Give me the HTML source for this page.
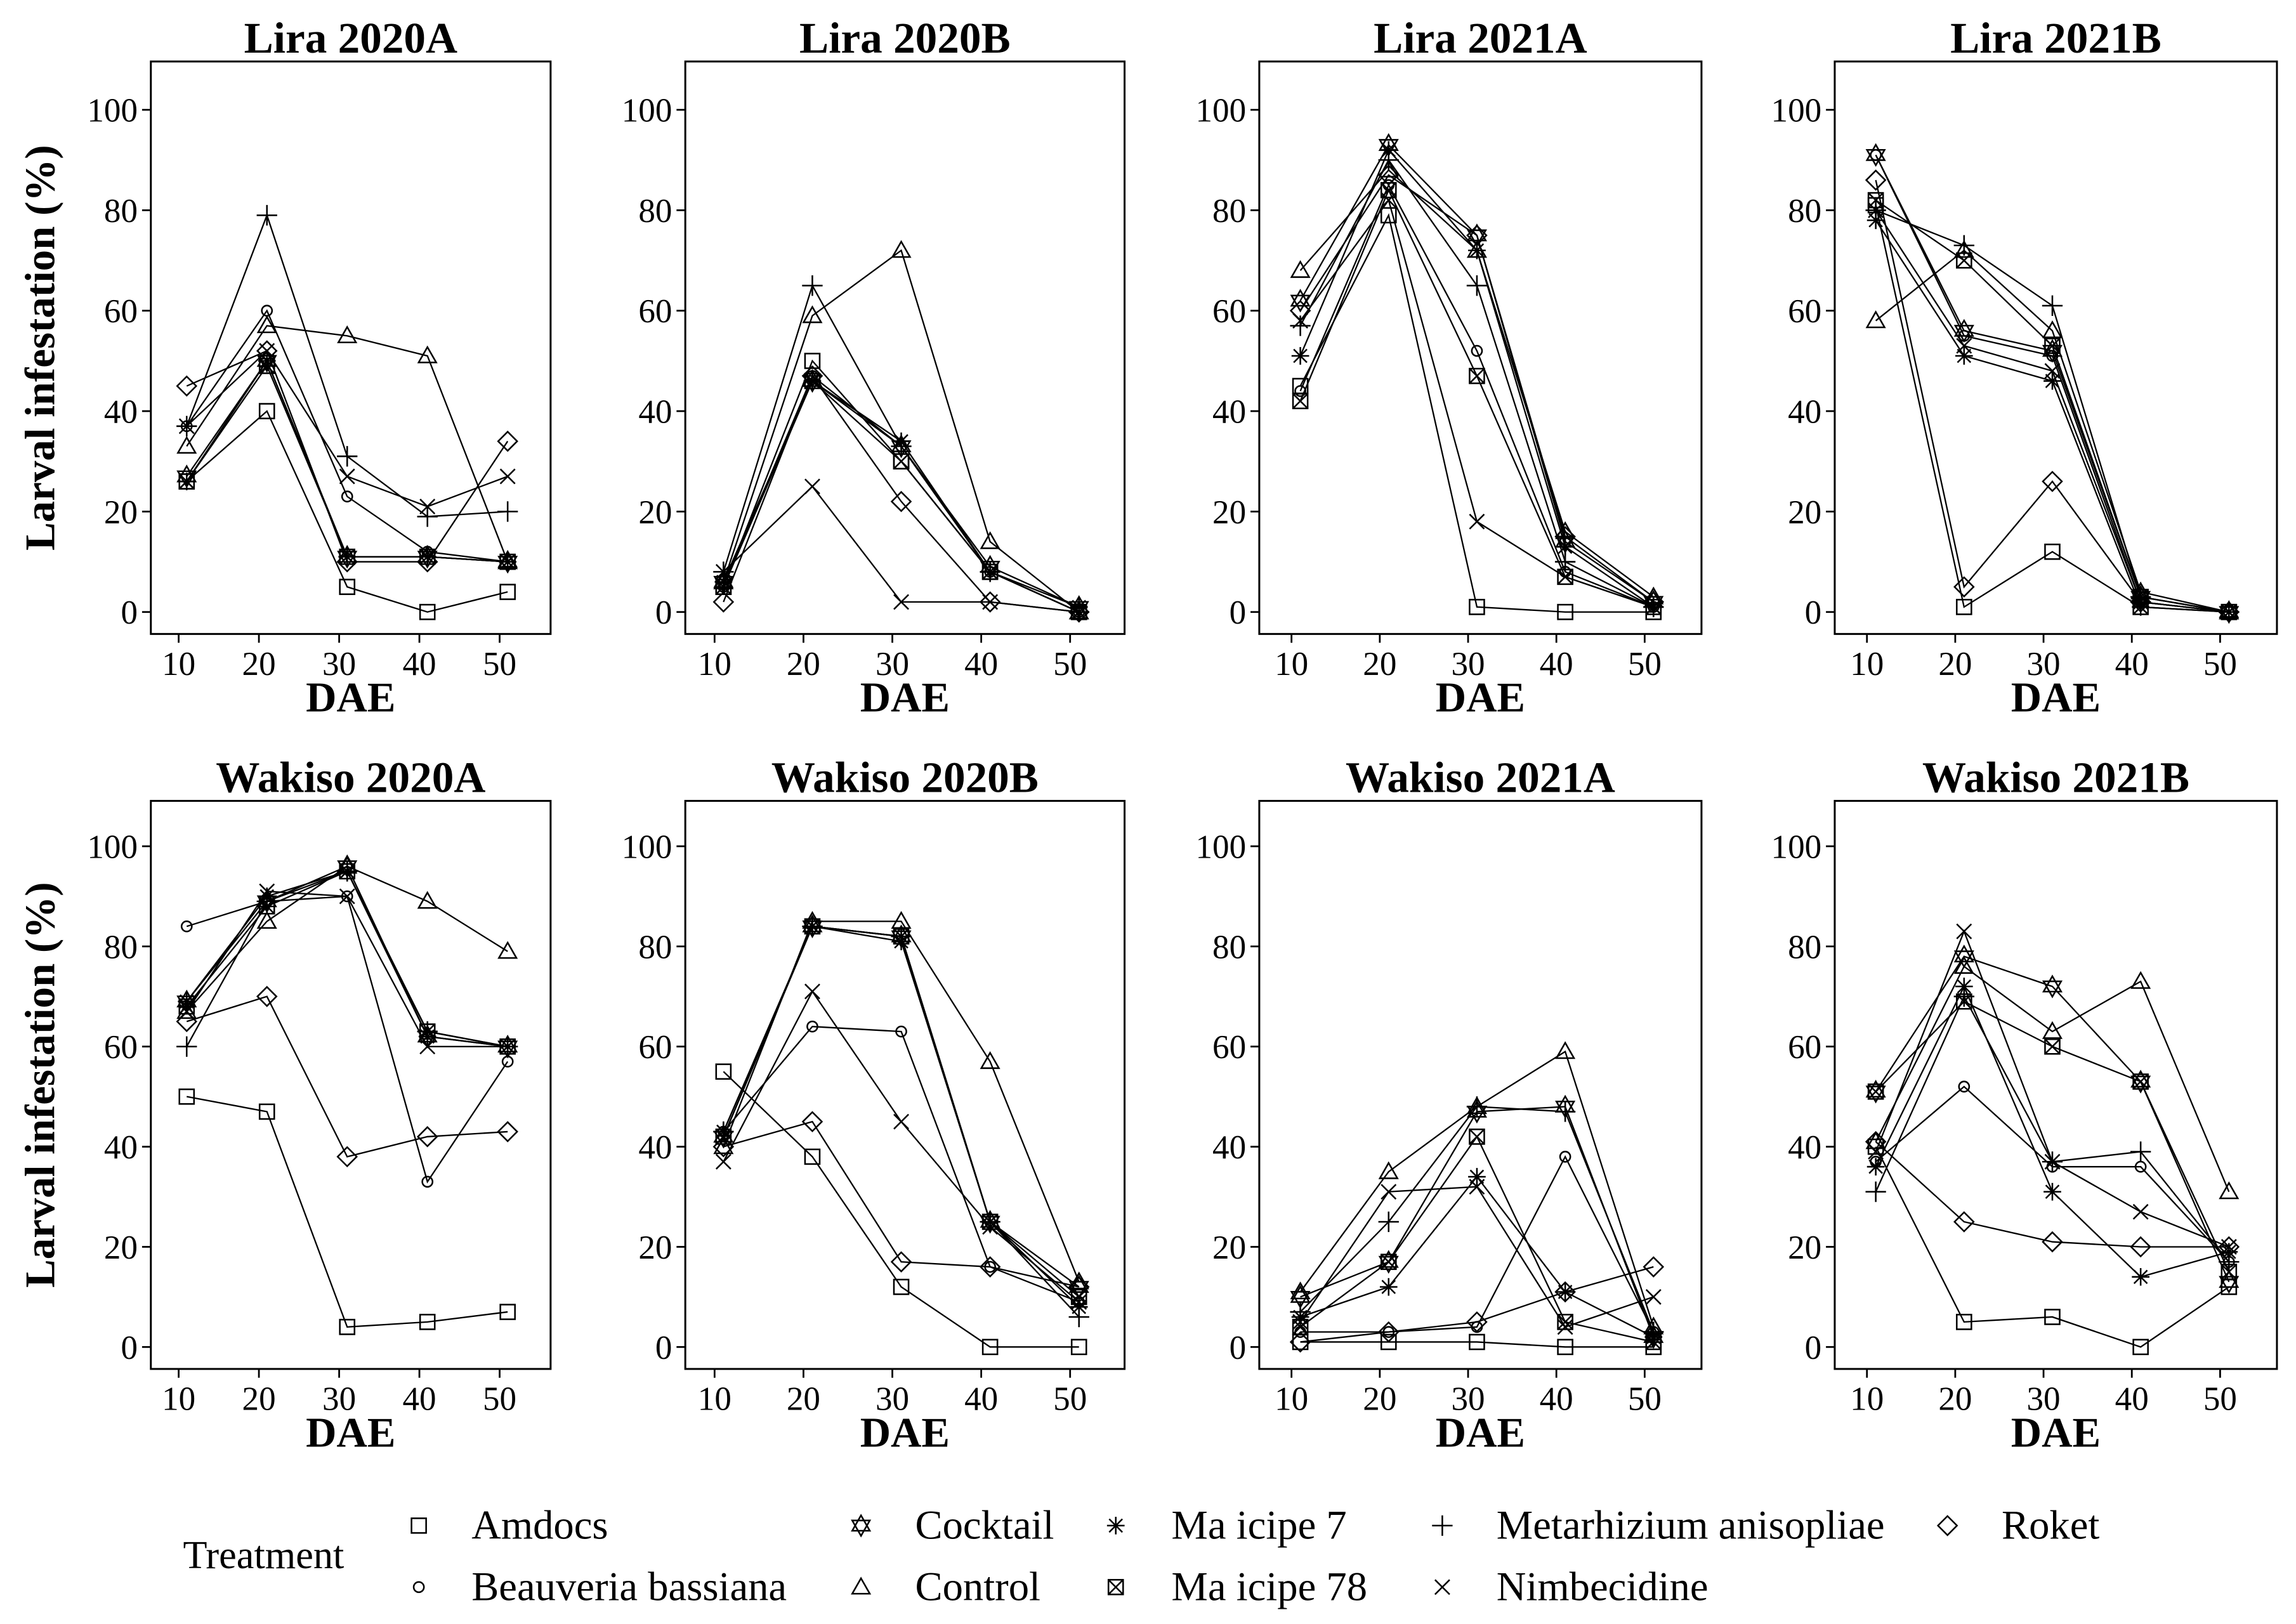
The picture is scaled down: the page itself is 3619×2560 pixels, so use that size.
<!DOCTYPE html>
<html><head><meta charset="utf-8"><style>html,body{margin:0;padding:0;background:#fff}svg{display:block}</style></head>
<body>
<svg id="chart" xmlns="http://www.w3.org/2000/svg" width="3619" height="2560" viewBox="0 0 1568 1109.2" font-family="'Liberation Serif', serif">
<rect width="1568" height="1109.2" fill="#fff"/>
</svg>
<script>
const panelTitles = ["Lira 2020A","Lira 2020B","Lira 2021A","Lira 2021B","Wakiso 2020A","Wakiso 2020B","Wakiso 2021A","Wakiso 2021B"];
const dae = [11,21,31,41,51];
const xTicks = [10,20,30,40,50];
const yTicks = [0,20,40,60,80,100];
const treatments = ["Amdocs","Beauveria bassiana","Cocktail","Control","Ma icipe 7","Ma icipe 78","Metarhizium anisopliae","Nimbecidine","Roket"];
const amdocs = [[26,40,5,0,4],[5,50,30,8,0],[45,79,1,0,0],[81,1,12,1,0],[50,47,4,5,7],[55,38,12,0,0],[1,1,1,0,0],[40,5,6,0,12]];
const beauveria = [[37,60,23,12,10],[5,47,33,8,0],[44,85,52,8,1],[91,55,51,2,0],[84,89,90,33,57],[43,64,63,16,9],[3,3,4,38,3],[37,52,36,36,17]];
const cocktail = [[27,50,11,11,10],[6,46,33,9,1],[62,93,75,14,2],[91,56,52,3,0],[69,89,96,62,60],[42,84,82,25,12],[10,17,47,48,2],[51,78,72,53,13]];
const control = [[33,57,55,51,10],[6,59,72,14,0],[68,88,72,16,3],[58,72,56,4,0],[67,85,96,89,79],[40,85,85,57,13],[11,35,48,59,4],[41,76,63,73,31]];
const ma7 = [[26,50,11,11,10],[6,46,34,8,1],[51,92,72,13,1],[78,51,46,1,0],[69,90,95,62,60],[43,84,81,25,8],[6,12,34,11,2],[36,72,31,14,19]];
const ma78 = [[26,49,11,11,10],[5,46,30,8,0],[42,84,47,7,1],[82,70,53,3,0],[68,88,95,63,60],[42,84,82,25,10],[4,17,42,5,1],[51,69,60,53,15]];
const metarhizium = [[37,79,31,19,20],[8,65,33,8,0],[57,90,65,10,1],[80,73,61,3,0],[60,89,95,63,60],[43,84,82,25,6],[7,25,48,47,3],[31,70,37,39,17]];
const nimbecidine = [[37,52,27,21,27],[8,25,2,2,0],[58,82,18,7,1],[80,53,48,2,0],[67,91,90,60,60],[37,71,45,24,9],[5,31,32,4,10],[39,83,37,27,20]];
const roket = [[45,52,10,10,34],[2,47,22,2,0],[60,87,75,15,2],[86,5,26,2,0],[65,70,38,42,43],[40,45,17,16,12],[1,3,5,11,16],[41,25,21,20,20]];
const seriesData = [amdocs,beauveria,cocktail,control,ma7,ma78,metarhizium,nimbecidine,roket];
const markerTypes = ["square","circle","star","triangle","asterisk","boxx","plus","cross","diamond"];

const NS = "http://www.w3.org/2000/svg";
const svg = document.getElementById("chart");
function el(tag, attrs, parent){const e=document.createElementNS(NS,tag);for(const k in attrs)e.setAttribute(k,attrs[k]);(parent||svg).appendChild(e);return e;}
const boxL=[103,468,860,1253], boxR=[376,768,1162,1555];
const tick10=[122,488,882,1275], tickStep=[54.8,60.7,60.3,60.3];
const rowTop=[42,547], rowBot=[433,935], rowY0=[418,920], rowY100=[75,578];
const st={stroke:"#000",fill:"none","stroke-width":1.1};
function marker(type,x,y,g){
  const s=5;
  if(type==="square") el("rect",Object.assign({x:x-s,y:y-s,width:2*s,height:2*s},st),g);
  else if(type==="circle") el("circle",Object.assign({cx:x,cy:y,r:3.5},st),g);
  else if(type==="triangle") el("path",Object.assign({d:`M${x},${y-6}L${x+6},${y+4.5}L${x-6},${y+4.5}Z`},st),g);
  else if(type==="diamond") el("path",Object.assign({d:`M${x},${y-6.5}L${x+6.5},${y}L${x},${y+6.5}L${x-6.5},${y}Z`},st),g);
  else if(type==="plus") el("path",Object.assign({d:`M${x-7},${y}H${x+7}M${x},${y-7}V${y+7}`},st),g);
  else if(type==="cross") el("path",Object.assign({d:`M${x-5},${y-5}L${x+5},${y+5}M${x+5},${y-5}L${x-5},${y+5}`},st),g);
  else if(type==="asterisk") el("path",Object.assign({d:`M${x-6},${y}H${x+6}M${x},${y-6}V${y+6}M${x-4.5},${y-4.5}L${x+4.5},${y+4.5}M${x+4.5},${y-4.5}L${x-4.5},${y+4.5}`},st),g);
  else if(type==="boxx"){el("rect",Object.assign({x:x-5,y:y-5,width:10,height:10},st),g);el("path",Object.assign({d:`M${x-5},${y-5}L${x+5},${y+5}M${x+5},${y-5}L${x-5},${y+5}`},st),g);}
  else if(type==="star"){el("path",Object.assign({d:`M${x},${y-7}L${x+6},${y+3.5}L${x-6},${y+3.5}ZM${x},${y+7}L${x+6},${y-3.5}L${x-6},${y-3.5}Z`},st),g);}
}
for(let p=0;p<8;p++){
  const c=p%4, r=Math.floor(p/4);
  const g=el("g",{});
  
  
  const xs=v=>tick10[c]+(v-10)*tickStep[c]/10;
  const ys=v=>rowY0[r]-(v/100)*(rowY0[r]-rowY100[r]);
  const box=el("rect",{x:boxL[c],y:rowTop[r],width:boxR[c]-boxL[c],height:rowBot[r]-rowTop[r],fill:"none",stroke:"#000","stroke-width":1.3},g);
  
  
  const t=el("text",{x:(boxL[c]+boxR[c])/2,y:rowTop[r]-6,"text-anchor":"middle","font-size":30,"font-weight":"bold"},g);
  t.textContent=panelTitles[p];
  
  
  xTicks.forEach(v=>{
    el("line",{x1:xs(v),x2:xs(v),y1:rowBot[r],y2:rowBot[r]+6,stroke:"#000","stroke-width":1.2},g);
    const tl=el("text",{x:xs(v),y:rowBot[r]+28,"text-anchor":"middle","font-size":23},g);
    tl.textContent=v;
    
    
  });
  yTicks.forEach(v=>{
    el("line",{x1:boxL[c]-6,x2:boxL[c],y1:ys(v),y2:ys(v),stroke:"#000","stroke-width":1.2},g);
    const tl=el("text",{x:boxL[c]-9,y:ys(v)+8,"text-anchor":"end","font-size":23},g);
    tl.textContent=v;
    
    
  });
  const xt=el("text",{x:(boxL[c]+boxR[c])/2,y:rowBot[r]+53,"text-anchor":"middle","font-size":29,"font-weight":"bold"},g);
  xt.textContent="DAE";
  
  
  if(c===0){
    const yt=el("text",{x:0,y:0,"text-anchor":"middle","font-size":29,"font-weight":"bold",transform:`translate(37,${(rowTop[r]+rowBot[r])/2}) rotate(-90)`},g);
    yt.textContent="Larval infestation (%)";
    
    
  }
  seriesData.forEach((sd,si)=>{
    const vals=sd[p];
    const sg=el("g",{},g);
    
    
    el("polyline",{points:vals.map((v,i)=>xs(dae[i])+","+ys(v)).join(" "),fill:"none",stroke:"#000","stroke-width":1},sg);
    vals.forEach((v,i)=>marker(markerTypes[si],xs(dae[i]),ys(v),sg));
  });
}
// legend
const lg=el("g",{});


const tt=el("text",{x:125,y:1071,"font-size":27},lg);
tt.textContent="Treatment";


const colM=[286,588,762,985,1330], colT=[322,625,800,1022,1367], rowsY=[1042,1084];
treatments.forEach((name,i)=>{
  const col=Math.floor(i/2), row=i%2;
  const e=el("g",{},lg);
  
  
  marker(markerTypes[i],colM[col],rowsY[row],e);
  const tx=el("text",{x:colT[col],y:rowsY[row]+9,"font-size":28},e);
  tx.textContent=name;
});
</script>
</body></html>
